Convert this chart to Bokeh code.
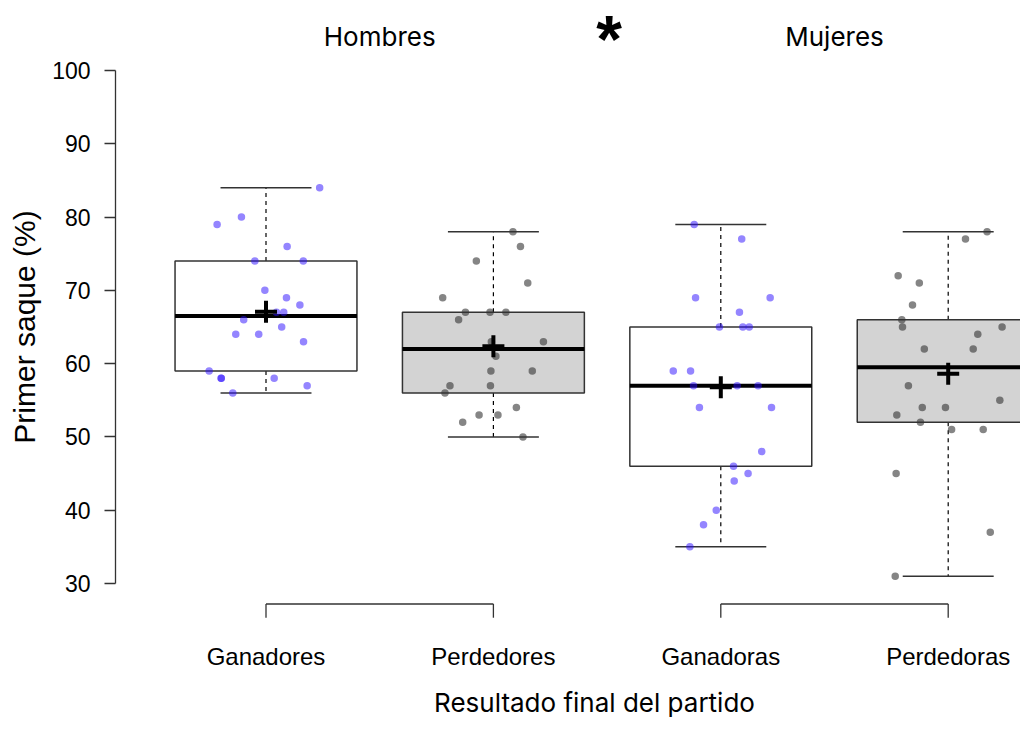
import numpy as np
from bokeh.plotting import figure
from bokeh.models import Range1d, LinearAxis, FixedTicker
from bokeh.core.properties import value
from bokeh.embed import file_html
from bokeh.resources import INLINE

# ---------------- data ----------------
categories = ["Ganadores", "Perdedores", "Ganadoras", "Perdedoras"]
group_labels = ["Hombres", "Mujeres"]
y_ticks = [30, 40, 50, 60, 70, 80, 90, 100]
y_title = "Primer saque (%)"
x_title = "Resultado final del partido"
signif = "*"

ganadores = [84, 80, 79, 76, 74, 74, 70, 69, 68, 67, 67, 66, 65, 64, 64, 63, 59, 58, 58, 58, 57, 56]
ganadores_jit = [0.236, -0.108, -0.215, 0.093, -0.049, 0.164, -0.005, 0.090, 0.149, 0.046, 0.078,
                 -0.098, 0.069, -0.133, -0.032, 0.165, -0.250, -0.197, -0.197, 0.036, 0.181, -0.146]

perdedores = [78, 76, 74, 71, 69, 67, 67, 67, 66, 63, 63, 61, 59, 59, 57, 57, 56, 54, 53, 53, 52, 50]
perdedores_jit = [0.086, 0.119, -0.075, 0.151, -0.223, -0.123, -0.015, 0.055, -0.153, 0.220, -0.009,
                  0.011, -0.011, 0.171, -0.191, -0.013, -0.213, 0.101, -0.063, 0.020, -0.135, 0.130]

ganadoras = [79, 77, 69, 69, 67, 65, 65, 65, 59, 59, 57, 57, 57, 54, 54, 48, 46, 45, 44, 40, 38, 35]
ganadoras_jit = [-0.117, 0.092, -0.111, 0.217, 0.082, -0.006, 0.097, 0.125, -0.209, -0.133, -0.120,
                 0.072, 0.164, -0.094, 0.223, 0.180, 0.056, 0.120, 0.059, -0.020, -0.076, -0.136]

perdedoras = [78, 77, 72, 71, 68, 66, 65, 65, 64, 62, 62, 57, 55, 54, 54, 53, 52, 51, 51, 45, 37, 31]
perdedoras_jit = [0.171, 0.076, -0.220, -0.127, -0.157, -0.204, -0.201, 0.237, 0.130, -0.105, 0.110,
                  -0.175, 0.227, -0.114, -0.012, -0.226, -0.122, 0.015, 0.154, -0.229, 0.185, -0.233]

series = [ganadores, perdedores, ganadoras, perdedoras]
jitters = [ganadores_jit, perdedores_jit, ganadoras_jit, perdedoras_jit]

# ---------------- styles ----------------
box_fill = ["white", "#d3d3d3", "white", "#d3d3d3"]
pt_color = ["#2a0cff", "#333333", "#2a0cff", "#333333"]
pt_alpha = [0.5, 0.6, 0.5, 0.6]
FONT = "Liberation Sans"
FONT2 = "Inter"


def fivenum(v):
    x = np.sort(np.asarray(v, dtype=float))
    n = len(x)
    n4 = np.floor((n + 3) / 2) / 2
    d = np.array([1, n4, (n + 1) / 2, n + 1 - n4, n]) - 1
    return 0.5 * (x[np.floor(d).astype(int)] + x[np.ceil(d).astype(int)])


positions = np.arange(1, len(categories) + 1)

# ---------------- layout mapping ----------------
W, H = 1020, 721
AXIS_PX = 115
y_lo, y_hi = y_ticks[0], y_ticks[-1]
ky = 513 / (y_hi - y_lo)          # px per y unit
top_axis_px = 70                  # pixel row of y_hi


def ypx(px):
    return y_hi + (top_axis_px - px) / ky


kx = 227.4                        # px per category step
first_px = 265.5


def xpx(px):
    return 1 + (px - first_px) / kx


p = figure(width=W, height=H, x_range=Range1d(xpx(0), xpx(W)), y_range=Range1d(ypx(H), ypx(0)),
           toolbar_location=None, output_backend="svg", x_axis_type=None, y_axis_type=None,
           min_border_left=0, min_border_right=0, min_border_top=0, min_border_bottom=0)
p.outline_line_color = None
p.grid.visible = False
p.background_fill_color = "white"
p.border_fill_color = "white"

# y axis, fixed at the R-style plot-region edge
yax = LinearAxis(bounds=(y_lo, y_hi), ticker=FixedTicker(ticks=y_ticks), fixed_location=xpx(AXIS_PX))
yax.axis_line_color = "#333333"
yax.axis_line_width = 1.3
yax.major_tick_line_color = "#333333"
yax.major_tick_line_width = 1.3
yax.major_tick_out = 11
yax.major_tick_in = 0
yax.minor_tick_line_color = None
yax.major_label_text_font = FONT
yax.major_label_text_font_size = "23px"
yax.major_label_text_color = "black"
yax.major_label_standoff = 14
p.add_layout(yax, "left")

# y title (centred on the 30-100 axis span)
p.text(x=[xpx(24)], y=[(y_lo + y_hi) / 2], text=[y_title], angle=np.pi / 2,
       text_align="center", text_baseline="middle", text_font=value(FONT),
       text_font_size="30px", text_color="black")

half_w = 0.4
cap_w = 0.2
for i, (vals, jit) in enumerate(zip(series, jitters)):
    pos = positions[i]
    mn, q1, med, q3, mx = fivenum(vals)
    mean = float(np.mean(vals))
    # whiskers
    p.segment(x0=[pos, pos], y0=[q3, q1], x1=[pos, pos], y1=[mx, mn],
              line_color="black", line_width=1.2, line_dash="4 4")
    p.segment(x0=[pos - cap_w, pos - cap_w], y0=[mx, mn], x1=[pos + cap_w, pos + cap_w], y1=[mx, mn],
              line_color="#333333", line_width=1.5)
    # box
    p.quad(left=[pos - half_w], right=[pos + half_w], bottom=[q1], top=[q3],
           fill_color=box_fill[i], line_color="#333333", line_width=1.5)
    # median
    p.segment(x0=[pos - half_w], y0=[med], x1=[pos + half_w], y1=[med],
              line_color="black", line_width=4)
    # points
    p.scatter(x=list(pos + np.asarray(jit)), y=vals, size=7.5, marker="circle",
              fill_color=pt_color[i], fill_alpha=pt_alpha[i], line_color=None)
    # mean
    p.scatter(x=[pos], y=[mean], marker="cross", size=22, line_color="black", line_width=4)

# group brackets
br_y = y_lo - 0.04 * (y_hi - y_lo)
br_tick = 13.7 / ky
for g in range(len(group_labels)):
    a, b = positions[2 * g], positions[2 * g + 1]
    p.segment(x0=[a], y0=[br_y], x1=[b], y1=[br_y], line_color="#333333", line_width=1.3)
    p.segment(x0=[a, b], y0=[br_y, br_y], x1=[a, b], y1=[br_y - br_tick, br_y - br_tick],
              line_color="#333333", line_width=1.3)

# category labels
p.text(x=list(positions), y=[ypx(656)] * len(categories), text=categories, text_font=value(FONT),
       text_font_size="24px", text_align="center", text_baseline="middle", text_color="black")

# x title
p.text(x=[xpx(594)], y=[ypx(702)], text=[x_title], text_font=value(FONT2),
       text_font_size="26px", text_align="center", text_baseline="middle", text_color="black")

# group titles
gx = [(positions[2 * g] + positions[2 * g + 1]) / 2 for g in range(len(group_labels))]
p.text(x=gx, y=[ypx(35.5)] * len(gx), text=group_labels, text_font=value(FONT2),
       text_font_size="26px", text_align="center", text_baseline="middle", text_color="black")

# significance star
p.text(x=[(positions[1] + positions[2]) / 2], y=[ypx(38)], text=[signif], text_font=value(FONT),
       text_font_size="66px", text_font_style="bold", text_align="center",
       text_baseline="middle", text_color="black", x_offset=2)

open("out.html", "w").write(file_html(p, INLINE))
